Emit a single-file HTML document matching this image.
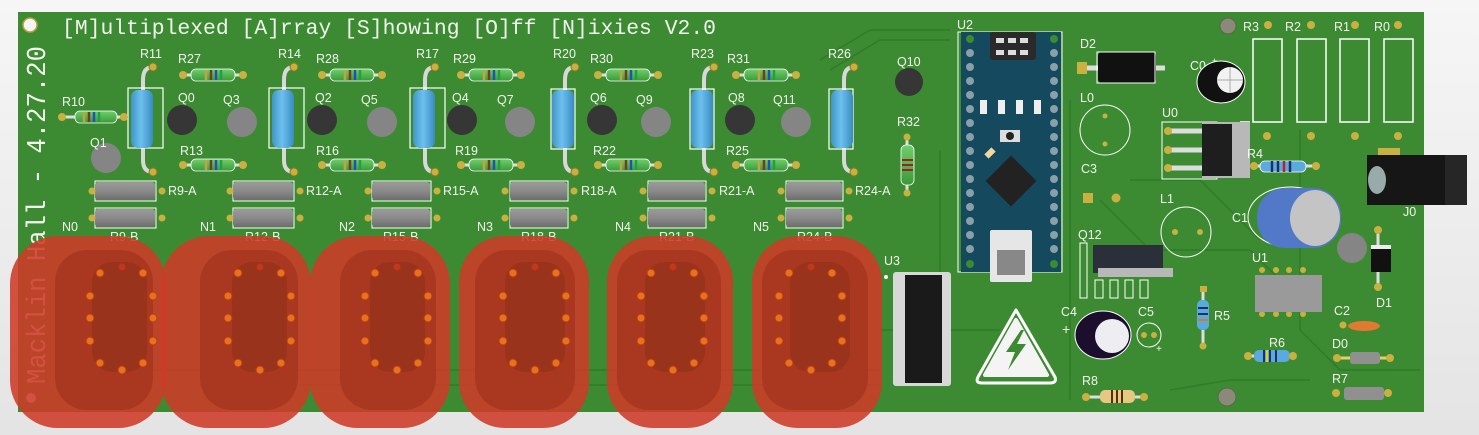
<!DOCTYPE html>
<html><head><meta charset="utf-8"><style>
html,body{margin:0;padding:0;background:#efefef;}
svg{display:block}
text{font-family:"Liberation Sans",sans-serif;fill:#f2f6ee;}
.m{font-family:"Liberation Mono",monospace;}
</style></head><body>
<svg width="1479" height="435" viewBox="0 0 1479 435" xmlns="http://www.w3.org/2000/svg">
<defs>
<linearGradient id="bg" x1="0" y1="0" x2="0" y2="1"><stop offset="0" stop-color="#f6f6f6"/><stop offset="1" stop-color="#e4e4e4"/></linearGradient>
<linearGradient id="blue" x1="0" y1="0" x2="1" y2="0"><stop offset="0" stop-color="#3f95c8"/><stop offset="0.45" stop-color="#6cc0ee"/><stop offset="1" stop-color="#3a8cc0"/></linearGradient>
<linearGradient id="gray" x1="0" y1="0" x2="0" y2="1"><stop offset="0" stop-color="#9a9a9a"/><stop offset="0.5" stop-color="#8a8a8a"/><stop offset="1" stop-color="#6d6d6d"/></linearGradient>
<linearGradient id="grn" x1="0" y1="0" x2="0" y2="1"><stop offset="0" stop-color="#6fcf6a"/><stop offset="1" stop-color="#3a9a3a"/></linearGradient>
</defs>
<rect width="1479" height="435" fill="url(#bg)"/>
<rect x="18" y="12" width="1406" height="400" fill="#3c8b32"/>
<g stroke="#2f7a28" stroke-width="1.5" fill="none" opacity="0.9">
<path d="M820 60 L870 30 L950 30"/><path d="M830 70 L880 40 L950 40"/>
<path d="M940 150 L940 380"/><path d="M1070 100 L1070 400"/>
<path d="M1100 200 L1150 250 L1250 250 L1300 300"/>
<path d="M1130 180 L1200 180 L1260 240"/>
<path d="M1300 130 L1300 330 L1340 370 L1420 370"/>
<path d="M1170 390 L1230 380 L1310 380"/>
<path d="M880 330 L1000 330"/>
<path d="M150 370 L880 370"/><path d="M300 385 L880 385"/>
</g>
<circle cx="30" cy="25" r="7" fill="#f4f4f4" stroke="#b9a040" stroke-width="1.5"/>
<circle cx="1228" cy="26" r="8" fill="#8a8a7a" stroke="#5a6a40"/>
<circle cx="1227" cy="397" r="9" fill="#8a8a7a" stroke="#5a6a40"/>
<text class="m" x="62" y="34" font-size="21" textLength="654" lengthAdjust="spacingAndGlyphs">[M]ultiplexed [A]rray [S]howing [O]ff [N]ixies V2.0</text>
<text class="m" transform="translate(45,384) rotate(-90)" font-size="27" textLength="338" lengthAdjust="spacingAndGlyphs">Macklin Hall - 4.27.20</text>
<circle cx="31" cy="398" r="5" fill="#f0f0f0"/>

<g>
<g stroke="#d8d8d8" stroke-width="4" fill="none" stroke-linecap="round">
<path d="M153 67 Q143 67 143 80 L143 160 Q143 172 153 172"/>
<path d="M294 67 Q284 67 284 80 L284 160 Q284 172 294 172"/>
<path d="M435 67 Q425 67 425 80 L425 160 Q425 172 435 172"/>
<path d="M575 67 Q565 67 565 80 L565 160 Q565 172 575 172"/>
<path d="M714 67 Q704 67 704 80 L704 160 Q704 172 714 172"/>
<path d="M854 67 Q844 67 844 80 L844 160 Q844 172 854 172"/>
</g>
<g fill="none" stroke="#fff" stroke-width="1.2">
<rect x="128" y="88" width="35" height="60"/><rect x="269" y="88" width="35" height="60"/><rect x="410" y="88" width="35" height="60"/>
<rect x="551" y="89" width="24" height="60"/><rect x="690" y="89" width="24" height="60"/><rect x="829" y="89" width="24" height="60"/>
</g>
<g fill="url(#blue)">
<rect x="131" y="90" width="22" height="58" rx="7"/><rect x="272" y="90" width="22" height="58" rx="7"/><rect x="413" y="90" width="22" height="58" rx="7"/>
<rect x="552" y="90" width="22" height="58" rx="7"/><rect x="691" y="90" width="22" height="58" rx="7"/><rect x="831" y="90" width="22" height="58" rx="7"/>
</g>
<g fill="#c9b040" stroke="#8a7a20">
<circle cx="153" cy="67" r="4"/><circle cx="153" cy="172" r="4"/><circle cx="294" cy="67" r="4"/><circle cx="294" cy="172" r="4"/>
<circle cx="435" cy="67" r="4"/><circle cx="435" cy="172" r="4"/><circle cx="575" cy="67" r="4"/><circle cx="575" cy="172" r="4"/>
<circle cx="714" cy="67" r="4"/><circle cx="714" cy="172" r="4"/><circle cx="854" cy="67" r="4"/><circle cx="854" cy="172" r="4"/>
</g>
<g font-size="12.5"><text x="140" y="58">R11</text><text x="278" y="58">R14</text><text x="416" y="58">R17</text><text x="553" y="58">R20</text><text x="691" y="58">R23</text><text x="828" y="58">R26</text></g>
</g>

<g>
<g stroke="#ddd" stroke-width="3">
<path d="M60 117 L125 117"/>
<path d="M182 75 L244 75"/><path d="M182 165 L244 165"/>
<path d="M321 75 L383 75"/><path d="M321 165 L383 165"/>
<path d="M460 75 L522 75"/><path d="M460 165 L522 165"/>
<path d="M597 75 L659 75"/><path d="M597 165 L659 165"/>
<path d="M735 75 L797 75"/><path d="M735 165 L797 165"/>
</g>
<g fill="url(#grn)" stroke="#fff" stroke-width="0.8">
<rect x="75" y="111" width="42" height="12" rx="5"/>
<rect x="191" y="69" width="44" height="12" rx="5"/><rect x="191" y="159" width="44" height="12" rx="5"/>
<rect x="330" y="69" width="44" height="12" rx="5"/><rect x="330" y="159" width="44" height="12" rx="5"/>
<rect x="469" y="69" width="44" height="12" rx="5"/><rect x="469" y="159" width="44" height="12" rx="5"/>
<rect x="606" y="69" width="44" height="12" rx="5"/><rect x="606" y="159" width="44" height="12" rx="5"/>
<rect x="744" y="69" width="44" height="12" rx="5"/><rect x="744" y="159" width="44" height="12" rx="5"/>
</g>
<g stroke-width="2.5">
<g id="bands"><path d="M206 70 V80" stroke="#c9a040"/><path d="M211 70 V80" stroke="#7a3a20"/><path d="M216 70 V80" stroke="#2050c0"/><path d="M221 70 V80" stroke="#20a040"/></g>
<use href="#bands" y="90"/><use href="#bands" x="139"/><use href="#bands" x="139" y="90"/><use href="#bands" x="278"/><use href="#bands" x="278" y="90"/>
<use href="#bands" x="415"/><use href="#bands" x="415" y="90"/><use href="#bands" x="553"/><use href="#bands" x="553" y="90"/><use href="#bands" x="-122" y="42"/>
</g>
<g fill="#c9b040">
<circle cx="62" cy="117" r="4"/><circle cx="124" cy="117" r="4"/>
<circle cx="183" cy="75" r="4"/><circle cx="243" cy="75" r="4"/><circle cx="183" cy="165" r="4"/><circle cx="243" cy="165" r="4"/>
<circle cx="322" cy="75" r="4"/><circle cx="382" cy="75" r="4"/><circle cx="322" cy="165" r="4"/><circle cx="382" cy="165" r="4"/>
<circle cx="461" cy="75" r="4"/><circle cx="521" cy="75" r="4"/><circle cx="461" cy="165" r="4"/><circle cx="521" cy="165" r="4"/>
<circle cx="598" cy="75" r="4"/><circle cx="658" cy="75" r="4"/><circle cx="598" cy="165" r="4"/><circle cx="658" cy="165" r="4"/>
<circle cx="736" cy="75" r="4"/><circle cx="796" cy="75" r="4"/><circle cx="736" cy="165" r="4"/><circle cx="796" cy="165" r="4"/>
</g>
<g font-size="12.5">
<text x="62" y="106">R10</text>
<text x="178" y="63">R27</text><text x="180" y="155">R13</text>
<text x="316" y="63">R28</text><text x="316" y="155">R16</text>
<text x="453" y="63">R29</text><text x="455" y="155">R19</text>
<text x="590" y="63">R30</text><text x="593" y="155">R22</text>
<text x="727" y="63">R31</text><text x="726" y="155">R25</text>
</g>
</g>

<g>
<g fill="#363636"><circle cx="182" cy="120" r="15"/><circle cx="322" cy="120" r="15"/><circle cx="462" cy="120" r="15"/><circle cx="602" cy="120" r="15"/><circle cx="740" cy="120" r="15"/><circle cx="909" cy="82" r="14"/></g>
<g fill="#858585"><circle cx="106" cy="158" r="15"/><circle cx="242" cy="122" r="15"/><circle cx="382" cy="122" r="15"/><circle cx="520" cy="122" r="15"/><circle cx="656" cy="122" r="15"/><circle cx="796" cy="122" r="15"/><circle cx="1352" cy="248" r="15"/></g>
<g font-size="12.5">
<text x="90" y="147">Q1</text><text x="178" y="102">Q0</text><text x="223" y="104">Q3</text>
<text x="315" y="102">Q2</text><text x="361" y="104">Q5</text>
<text x="452" y="102">Q4</text><text x="497" y="104">Q7</text>
<text x="590" y="102">Q6</text><text x="636" y="104">Q9</text>
<text x="728" y="102">Q8</text><text x="773" y="104">Q11</text>
<text x="897" y="66">Q10</text>
</g>
</g>

<g>
<g fill="none" stroke="#fff" stroke-width="1"><rect x="95" y="181" width="61" height="20"/><rect x="95" y="208" width="61" height="20"/>
<rect x="233" y="181" width="61" height="20"/><rect x="233" y="208" width="61" height="20"/>
<rect x="372" y="181" width="59" height="20"/><rect x="372" y="208" width="59" height="20"/>
<rect x="510" y="181" width="58" height="20"/><rect x="510" y="208" width="58" height="20"/>
<rect x="648" y="181" width="58" height="20"/><rect x="648" y="208" width="58" height="20"/>
<rect x="786" y="181" width="57" height="20"/><rect x="786" y="208" width="57" height="20"/></g>
<g fill="url(#gray)"><rect x="95" y="182" width="60" height="18" rx="3"/><rect x="95" y="209" width="60" height="18" rx="3"/>
<rect x="233" y="182" width="60" height="18" rx="3"/><rect x="233" y="209" width="60" height="18" rx="3"/>
<rect x="372" y="182" width="58" height="18" rx="3"/><rect x="372" y="209" width="58" height="18" rx="3"/>
<rect x="510" y="182" width="57" height="18" rx="3"/><rect x="510" y="209" width="57" height="18" rx="3"/>
<rect x="648" y="182" width="57" height="18" rx="3"/><rect x="648" y="209" width="57" height="18" rx="3"/>
<rect x="786" y="182" width="56" height="18" rx="3"/><rect x="786" y="209" width="56" height="18" rx="3"/></g>
<g fill="#c9b040"><circle cx="92" cy="191" r="3.5"/><circle cx="92" cy="218" r="3.5"/><circle cx="162" cy="191" r="3.5"/><circle cx="162" cy="218" r="3.5"/>
<circle cx="230" cy="191" r="3.5"/><circle cx="230" cy="218" r="3.5"/><circle cx="300" cy="191" r="3.5"/><circle cx="300" cy="218" r="3.5"/>
<circle cx="368" cy="191" r="3.5"/><circle cx="368" cy="218" r="3.5"/><circle cx="437" cy="191" r="3.5"/><circle cx="437" cy="218" r="3.5"/>
<circle cx="505" cy="191" r="3.5"/><circle cx="505" cy="218" r="3.5"/><circle cx="574" cy="191" r="3.5"/><circle cx="574" cy="218" r="3.5"/>
<circle cx="643" cy="191" r="3.5"/><circle cx="643" cy="218" r="3.5"/><circle cx="712" cy="191" r="3.5"/><circle cx="712" cy="218" r="3.5"/>
<circle cx="781" cy="191" r="3.5"/><circle cx="781" cy="218" r="3.5"/><circle cx="849" cy="191" r="3.5"/><circle cx="849" cy="218" r="3.5"/></g>
<g font-size="12.5">
<text x="168" y="195">R9-A</text><text x="306" y="195">R12-A</text><text x="443" y="195">R15-A</text><text x="581" y="195">R18-A</text><text x="719" y="195">R21-A</text><text x="855" y="195">R24-A</text>
<text x="62" y="231">N0</text><text x="200" y="231">N1</text><text x="339" y="231">N2</text><text x="477" y="231">N3</text><text x="615" y="231">N4</text><text x="753" y="231">N5</text>
<text x="110" y="241">R9-B</text><text x="245" y="241">R12-B</text><text x="383" y="241">R15-B</text><text x="521" y="241">R18-B</text><text x="659" y="241">R21-B</text><text x="797" y="241">R24-B</text>
</g>
</g>

<g>
<g fill="rgba(205,58,40,0.88)">
<rect x="10" y="236" width="156" height="192" rx="48"/>
<rect x="161" y="236" width="150" height="192" rx="48"/>
<rect x="310" y="236" width="140" height="192" rx="48"/>
<rect x="459" y="236" width="130" height="192" rx="46"/>
<rect x="607" y="236" width="126" height="192" rx="46"/>
<rect x="752" y="236" width="130" height="192" rx="46"/>
</g>
<g fill="rgba(150,42,22,0.45)">
<rect x="55" y="250" width="98" height="160" rx="32"/>
<rect x="200" y="250" width="98" height="160" rx="32"/>
<rect x="340" y="250" width="96" height="160" rx="32"/>
<rect x="475" y="250" width="100" height="160" rx="32"/>
<rect x="617" y="250" width="104" height="160" rx="32"/>
<rect x="762" y="250" width="106" height="160" rx="32"/>
</g>
<g fill="rgba(120,40,20,0.3)">
<rect x="92" y="262" width="55" height="110" rx="20"/><rect x="232" y="262" width="55" height="110" rx="20"/>
<rect x="370" y="262" width="55" height="110" rx="20"/><rect x="505" y="262" width="60" height="110" rx="20"/>
<rect x="645" y="262" width="60" height="110" rx="20"/><rect x="790" y="262" width="60" height="110" rx="20"/>
</g>
<g fill="#e8701f" stroke="#b04010" stroke-width="1">
<g id="pins"><circle cx="100" cy="273" r="4"/><circle cx="143" cy="273" r="4"/><circle cx="90" cy="296" r="4"/><circle cx="153" cy="296" r="4"/><circle cx="90" cy="318" r="4"/><circle cx="153" cy="318" r="4"/><circle cx="90" cy="341" r="4"/><circle cx="153" cy="341" r="4"/><circle cx="100" cy="363" r="4"/><circle cx="143" cy="363" r="4"/><circle cx="122" cy="370" r="4"/><circle cx="122" cy="267" r="3" fill="#d03020"/></g>
<use href="#pins" x="138"/><use href="#pins" x="275"/><use href="#pins" x="413"/><use href="#pins" x="551"/><use href="#pins" x="689"/>
</g>
</g>

<text x="884" y="265" font-size="12.5">U3</text>
<circle cx="886" cy="277" r="2" fill="#fff"/>
<rect x="893" y="272" width="58" height="114" rx="3" fill="#d8d8d8"/>
<rect x="905" y="275" width="37" height="108" fill="#1a1a1a"/>

<text x="897" y="126" font-size="12.5">R32</text>
<path d="M907 138 V192" stroke="#ddd" stroke-width="3"/>
<rect x="901" y="145" width="13" height="40" rx="5" fill="url(#grn)" stroke="#fff" stroke-width="0.8"/>
<path d="M902 160 H913 M902 165 H913 M902 170 H913" stroke="#a02020" stroke-width="2"/>
<circle cx="907" cy="137" r="3.5" fill="#c9b040"/><circle cx="907" cy="193" r="3.5" fill="#c9b040"/>

<text x="957" y="29" font-size="12.5">U2</text>
<rect x="958" y="32" width="104" height="240" fill="none" stroke="#fff"/>
<rect x="961" y="32" width="100" height="240" fill="#14495e"/>
<rect x="990" y="32" width="46" height="28" rx="3" fill="#2a2a2a"/>
<g fill="#ddd"><rect x="996" y="38" width="8" height="5"/><rect x="1008" y="38" width="8" height="5"/><rect x="1020" y="38" width="8" height="5"/><rect x="996" y="50" width="8" height="5"/><rect x="1008" y="50" width="8" height="5"/><rect x="1020" y="50" width="8" height="5"/></g>
<g fill="#8aa0a8">
<circle cx="970" cy="53" r="4"/><circle cx="970" cy="67" r="4"/><circle cx="970" cy="81" r="4"/><circle cx="970" cy="95" r="4"/><circle cx="970" cy="109" r="4"/><circle cx="970" cy="123" r="4"/><circle cx="970" cy="137" r="4"/><circle cx="970" cy="151" r="4"/><circle cx="970" cy="165" r="4"/><circle cx="970" cy="179" r="4"/><circle cx="970" cy="193" r="4"/><circle cx="970" cy="207" r="4"/><circle cx="970" cy="221" r="4"/><circle cx="970" cy="235" r="4"/><circle cx="970" cy="249" r="4"/>
<circle cx="1054" cy="53" r="4"/><circle cx="1054" cy="67" r="4"/><circle cx="1054" cy="81" r="4"/><circle cx="1054" cy="95" r="4"/><circle cx="1054" cy="109" r="4"/><circle cx="1054" cy="123" r="4"/><circle cx="1054" cy="137" r="4"/><circle cx="1054" cy="151" r="4"/><circle cx="1054" cy="165" r="4"/><circle cx="1054" cy="179" r="4"/><circle cx="1054" cy="193" r="4"/><circle cx="1054" cy="207" r="4"/><circle cx="1054" cy="221" r="4"/><circle cx="1054" cy="235" r="4"/><circle cx="1054" cy="249" r="4"/>
</g>
<circle cx="970" cy="39" r="4" fill="#3c8b32"/><circle cx="1054" cy="39" r="4" fill="#3c8b32"/><circle cx="970" cy="264" r="4" fill="#3c8b32"/><circle cx="1054" cy="264" r="4" fill="#3c8b32"/>
<g fill="#eee"><rect x="980" y="100" width="7" height="14"/><rect x="998" y="100" width="7" height="14"/><rect x="1016" y="100" width="7" height="14"/><rect x="1034" y="100" width="7" height="14"/></g>
<rect x="1000" y="130" width="20" height="12" fill="#ddd"/><circle cx="1010" cy="136" r="4" fill="#222"/>
<rect x="985" y="150" width="10" height="6" fill="#f0d8a0" transform="rotate(-45 990 153)"/>
<rect x="993" y="163" width="36" height="36" fill="#222" transform="rotate(45 1011 181)"/>
<rect x="990" y="230" width="42" height="52" fill="#e6e6e6" rx="2"/>
<rect x="997" y="250" width="28" height="25" fill="#888"/>
<text x="1080" y="48" font-size="12.5">D2</text>
<rect x="1077" y="62" width="10" height="12" fill="#c9b040"/>
<path d="M1087 68 H1165" stroke="#ddd" stroke-width="5"/>
<rect x="1098" y="52" width="58" height="31" rx="4" fill="#111"/>
<rect x="1097" y="52" width="58" height="31" fill="none" stroke="#fff"/>
<text x="1190" y="70" font-size="12.5">C0</text><text x="1212" y="64" font-size="9">+</text>
<ellipse cx="1221" cy="82" rx="24" ry="21" fill="#111" stroke="#fff"/>
<circle cx="1230" cy="80" r="13" fill="#f2f2f2"/>
<path d="M1230 67 V93 M1217 80 H1243" stroke="#aaa"/>
<g font-size="12.5"><text x="1243" y="31">R3</text><text x="1285" y="31">R2</text><text x="1334" y="31">R1</text><text x="1374" y="31">R0</text></g>
<g fill="none" stroke="#fff" stroke-width="1.5"><rect x="1253" y="39" width="29" height="83"/><rect x="1297" y="39" width="29" height="83"/><rect x="1340" y="39" width="29" height="83"/><rect x="1384" y="39" width="29" height="83"/></g>
<g fill="#c9b040"><circle cx="1268" cy="25" r="4"/><circle cx="1311" cy="25" r="4"/><circle cx="1355" cy="25" r="4"/><circle cx="1398" cy="25" r="4"/><circle cx="1267" cy="136" r="4"/><circle cx="1311" cy="136" r="4"/><circle cx="1355" cy="136" r="4"/><circle cx="1398" cy="136" r="4"/></g>
<text x="1080" y="102" font-size="12.5">L0</text>
<circle cx="1105" cy="130" r="25" fill="none" stroke="#fff"/>
<circle cx="1105" cy="116" r="2.5" fill="#c9b040"/><circle cx="1105" cy="144" r="2.5" fill="#c9b040"/>
<text x="1081" y="173" font-size="12.5">C3</text>
<rect x="1083" y="193" width="10" height="10" fill="#c9b040"/><circle cx="1116" cy="198" r="4.5" fill="#c9b040"/>
<text x="1162" y="117" font-size="12.5">U0</text>
<rect x="1162" y="122" width="55" height="57" fill="none" stroke="#fff"/>
<g stroke="#ddd" stroke-width="5"><path d="M1166 131 H1205 M1166 150 H1205 M1166 168 H1205"/></g>
<g fill="#c9b040"><circle cx="1168" cy="131" r="4"/><circle cx="1168" cy="150" r="4"/><circle cx="1168" cy="168" r="4"/></g>
<rect x="1240" y="121" width="10" height="57" fill="#ddd"/>
<rect x="1202" y="122" width="48" height="56" fill="#b8b8b8"/>
<rect x="1202" y="124" width="30" height="52" fill="#1e1e1e"/>
<text x="1247" y="158" font-size="12.5">R4</text>
<path d="M1252 166 H1318" stroke="#ddd" stroke-width="3"/>
<rect x="1260" y="161" width="46" height="11" rx="5" fill="#5aaae0" stroke="#fff" stroke-width="0.8"/>
<path d="M1272 161 V172 M1278 161 V172 M1290 161 V172" stroke="#203060" stroke-width="2.5"/><path d="M1284 161 V172" stroke="#c02020" stroke-width="2.5"/>
<circle cx="1254" cy="166" r="4" fill="#c9b040"/><circle cx="1316" cy="166" r="4" fill="#c9b040"/>
<rect x="1378" y="148" width="22" height="10" fill="#c9b040"/>
<rect x="1367" y="155" width="100" height="50" fill="#161616"/>
<rect x="1445" y="155" width="22" height="50" fill="#262626"/>
<ellipse cx="1377" cy="180" rx="9" ry="14" fill="#9aa"/>
<text x="1403" y="216" font-size="12.5">J0</text>
<text x="1160" y="203" font-size="12.5">L1</text>
<circle cx="1186" cy="232" r="25" fill="none" stroke="#fff"/>
<circle cx="1175" cy="232" r="3" fill="#c9b040"/><circle cx="1200" cy="232" r="3" fill="#c9b040"/>
<text x="1232" y="222" font-size="12.5">C1</text>
<ellipse cx="1290" cy="217" rx="42" ry="30" fill="none" stroke="#fff"/>
<rect x="1257" y="188" width="84" height="60" rx="28" fill="#5278c8"/>
<ellipse cx="1315" cy="218" rx="25" ry="28" fill="#c4c4c4"/>
<text x="1078" y="239" font-size="12.5">Q12</text>
<rect x="1093" y="245" width="70" height="28" fill="#2b2f3a"/>
<rect x="1098" y="268" width="75" height="9" fill="#b8b8b8"/>
<g fill="none" stroke="#fff"><rect x="1080" y="243" width="7" height="55"/><rect x="1095" y="280" width="8" height="18"/><rect x="1110" y="280" width="8" height="18"/><rect x="1125" y="280" width="8" height="18"/><rect x="1140" y="280" width="8" height="18"/></g>
<text x="1252" y="262" font-size="12.5">U1</text>
<g fill="#c9b040"><circle cx="1262" cy="270" r="3"/><circle cx="1276" cy="270" r="3"/><circle cx="1289" cy="270" r="3"/><circle cx="1303" cy="270" r="3"/><circle cx="1262" cy="314" r="3"/><circle cx="1276" cy="314" r="3"/><circle cx="1289" cy="314" r="3"/><circle cx="1303" cy="314" r="3"/></g>
<rect x="1255" y="275" width="67" height="37" fill="#9a9a9a"/>
<path d="M1378 230 V285" stroke="#ddd" stroke-width="3"/>
<rect x="1371" y="245" width="20" height="27" fill="#111"/><rect x="1371" y="245" width="20" height="4" fill="#eee"/>
<circle cx="1378" cy="230" r="4" fill="#c9b040"/><circle cx="1378" cy="287" r="4" fill="#c9b040"/>
<text x="1376" y="307" font-size="12.5">D1</text>
<path d="M1203 288 V345" stroke="#ddd" stroke-width="3"/>
<rect x="1197" y="300" width="12" height="30" rx="5" fill="#5aaae0"/>
<path d="M1198 308 H1208 M1198 314 H1208" stroke="#203060" stroke-width="2"/><path d="M1198 320 H1208" stroke="#d08020" stroke-width="2"/>
<rect x="1200" y="286" width="7" height="6" fill="#c9b040"/><circle cx="1203" cy="346" r="3.5" fill="#c9b040"/>
<text x="1214" y="320" font-size="12.5">R5</text>
<text x="1334" y="315" font-size="12.5">C2</text>
<ellipse cx="1364" cy="326" rx="16" ry="5" fill="#e07a30"/><circle cx="1343" cy="325" r="3.5" fill="#c9b040"/>
<text x="1332" y="348" font-size="12.5">D0</text>
<path d="M1337 358 H1390" stroke="#e8d060" stroke-width="3"/><rect x="1350" y="352" width="30" height="12" rx="3" fill="#909090"/>
<circle cx="1337" cy="358" r="4" fill="#c9b040"/><circle cx="1390" cy="358" r="4" fill="#c9b040"/>
<text x="1332" y="383" font-size="12.5">R7</text>
<rect x="1344" y="387" width="40" height="13" rx="3" fill="#909090"/>
<circle cx="1336" cy="393" r="4" fill="#c9b040"/><circle cx="1388" cy="393" r="4" fill="#c9b040"/>
<text x="1269" y="347" font-size="12.5">R6</text>
<path d="M1248 356 H1293" stroke="#ddd" stroke-width="3"/>
<rect x="1254" y="350" width="36" height="12" rx="5" fill="#5aaae0"/>
<path d="M1264 350 V362 M1270 350 V362 M1276 350 V362" stroke="#203060" stroke-width="2"/><path d="M1267 350 V362" stroke="#e0d020" stroke-width="2"/>
<circle cx="1248" cy="356" r="4" fill="#c9b040"/><circle cx="1293" cy="356" r="4" fill="#c9b040"/>
<text x="1061" y="316" font-size="12.5">C4</text><text x="1062" y="334" font-size="14">+</text>
<ellipse cx="1103" cy="335" rx="28" ry="24" fill="#1c0f2e" stroke="#fff"/>
<circle cx="1112" cy="336" r="17" fill="#ededf2"/>
<text x="1138" y="316" font-size="12.5">C5</text>
<circle cx="1149" cy="335" r="12" fill="none" stroke="#fff"/>
<circle cx="1144" cy="335" r="3" fill="#c9b040"/><circle cx="1154" cy="335" r="3" fill="#c9b040"/>
<text x="1156" y="352" font-size="10">+</text>
<text x="1082" y="385" font-size="12.5">R8</text>
<path d="M1085 397 H1145" stroke="#ddd" stroke-width="3"/>
<rect x="1100" y="390" width="35" height="13" rx="5" fill="#e8c880"/>
<path d="M1112 390 V403 M1117 390 V403 M1122 390 V403" stroke="#503010" stroke-width="2"/>
<circle cx="1086" cy="397" r="4" fill="#c9b040"/><circle cx="1144" cy="397" r="4" fill="#c9b040"/>
<path d="M1016 310 L1055 377 Q1057 383 1050 383 L982 383 Q975 383 978 377 Z" fill="none" stroke="#fff" stroke-width="3" stroke-linejoin="round"/>
<path d="M1016 320 L1047 375 L985 375 Z" fill="#f4f4f4" stroke="#f4f4f4" stroke-width="4" stroke-linejoin="round"/>
<path d="M1021 330 L1006 352 L1015 352 L1008 370 L1026 344 L1017 344 L1024 330 Z" fill="#3c8b32"/>
</svg>
</body></html>
